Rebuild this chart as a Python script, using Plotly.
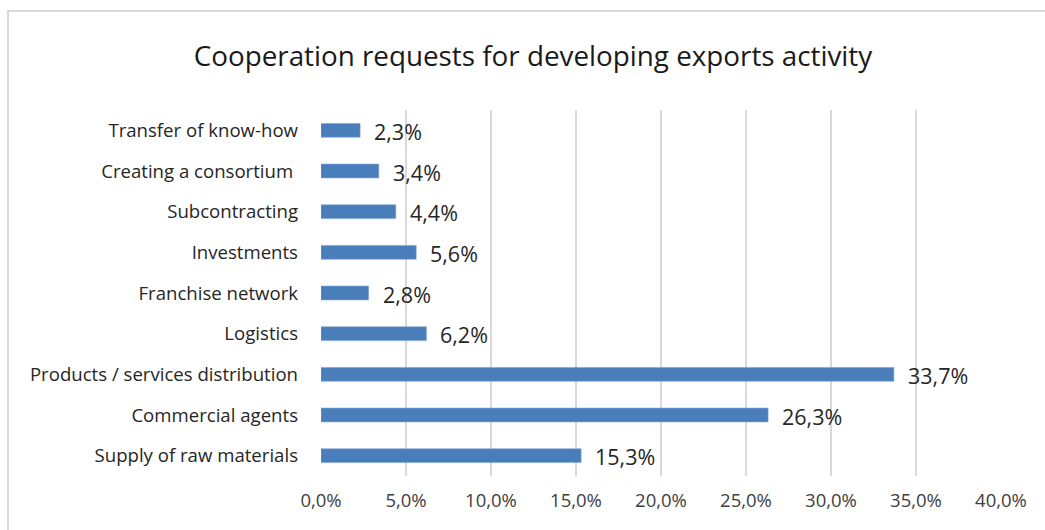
import plotly.graph_objects as go

# Categories listed bottom to top, as drawn on the y axis
categories = [
    "Supply of raw materials",
    "Commercial agents",
    "Products / services distribution",
    "Logistics",
    "Franchise network",
    "Investments",
    "Subcontracting",
    "Creating a consortium ",
    "Transfer of know-how",
]
shares = [15.3, 26.3, 33.7, 6.2, 2.8, 5.6, 4.4, 3.4, 2.3]
tick_values = [0, 5, 10, 15, 20, 25, 30, 35, 40]
tick_labels = [f"{v:.1f}%".replace(".", ",") for v in tick_values]

FONT = "'Open Sans', Lato, sans-serif"

fig = go.Figure(
    go.Bar(
        x=shares,
        y=categories,
        orientation="h",
        width=0.34,
        marker=dict(color="#4A7EBB", line=dict(color="#7FA3D0", width=0.6)),
        hoverinfo="skip",
    )
)

# Value labels just past the end of each bar
for cat, val in zip(categories, shares):
    fig.add_annotation(
        x=val,
        y=cat,
        xref="x",
        yref="y",
        text=f"{val:.1f}%".replace(".", ","),
        showarrow=False,
        xanchor="left",
        yanchor="middle",
        xshift=12,
        yshift=-1,
        font=dict(family=FONT, size=21.5, color="#262626"),
    )

fig.update_layout(
    width=1045,
    height=530,
    margin=dict(l=321, r=44, t=110, b=54),
    paper_bgcolor="white",
    plot_bgcolor="white",
    showlegend=False,
    title=dict(
        text="Cooperation requests for developing exports activity",
        x=0.51,
        xanchor="center",
        y=0.893,
        yanchor="middle",
        font=dict(family=FONT, size=27.8, color="#1a1a1a"),
    ),
    xaxis=dict(
        range=[0, 40],
        tickvals=tick_values,
        ticktext=tick_labels,
        showgrid=True,
        gridcolor="#d9d9d9",
        gridwidth=1.5,
        zeroline=False,
        showline=False,
        ticks="",
        ticklabelstandoff=11,
        tickfont=dict(family=FONT, size=18.5, color="#404040"),
    ),
    yaxis=dict(
        showgrid=False,
        showline=False,
        zeroline=False,
        ticks="",
        ticklabelstandoff=22,
        tickfont=dict(family=FONT, size=18.6, color="#262626"),
    ),
    shapes=[
        dict(
            type="rect",
            xref="paper",
            yref="paper",
            x0=-313 / 680,
            x1=1.2,
            y0=-0.5,
            y1=1 + 99 / 366,
            line=dict(color="#d9d9d9", width=2),
            fillcolor="rgba(0,0,0,0)",
            layer="below",
        )
    ],
)

fig.write_html("out.html")
